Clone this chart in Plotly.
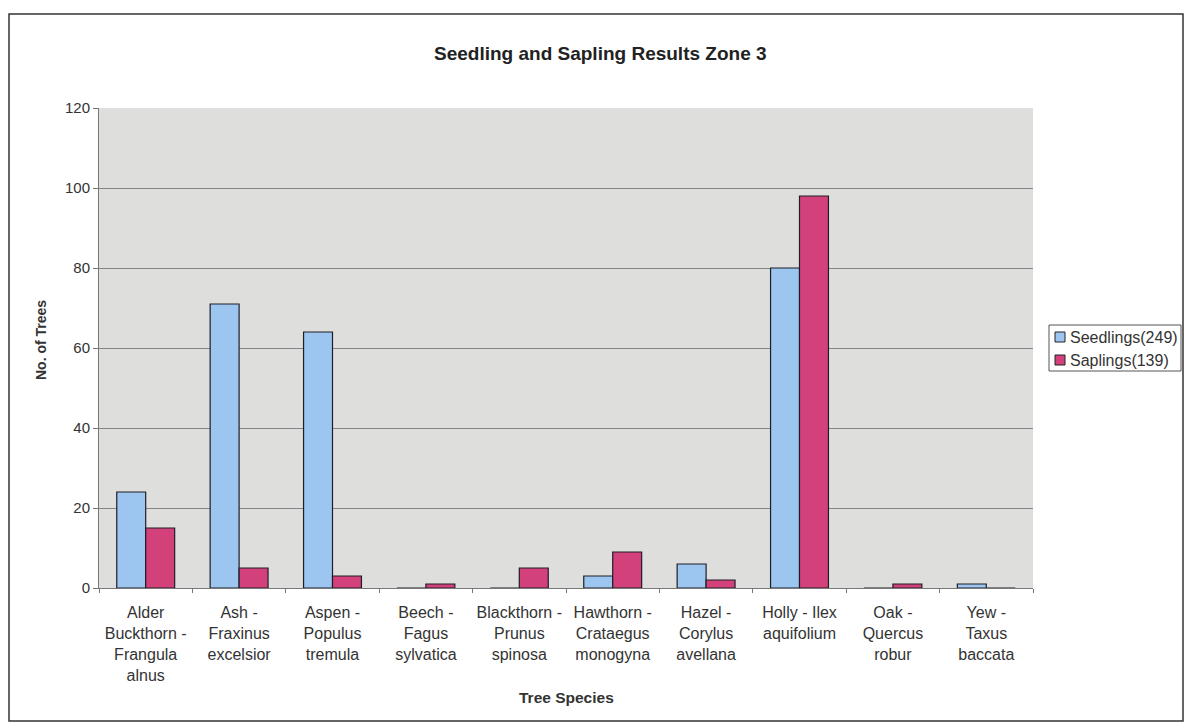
import plotly.graph_objects as go

# Tree species (category labels, line-wrapped)
species = [
    "Alder<br>Buckthorn -<br>Frangula<br>alnus",
    "Ash -<br>Fraxinus<br>excelsior",
    "Aspen -<br>Populus<br>tremula",
    "Beech -<br>Fagus<br>sylvatica",
    "Blackthorn -<br>Prunus<br>spinosa",
    "Hawthorn -<br>Crataegus<br>monogyna",
    "Hazel -<br>Corylus<br>avellana",
    "Holly - Ilex<br>aquifolium",
    "Oak -<br>Quercus<br>robur",
    "Yew -<br>Taxus<br>baccata",
]

seedlings = [24, 71, 64, 0, 0, 3, 6, 80, 0, 1]
saplings = [15, 5, 3, 1, 5, 9, 2, 98, 1, 0]

series_names = ["Seedlings(249)", "Saplings(139)"]
series_colors = ["#9CC5F0", "#D2417A"]

y_ticks = [0, 20, 40, 60, 80, 100, 120]

W, H = 1184, 725
L, R, T, B = 99, 151, 108, 137
pw, ph = W - L - R, H - T - B


def px(x):
    return (x - L) / pw


def py(y):
    return (H - B - y) / ph


font = "Arial, Liberation Sans, sans-serif"
txt = "#333333"

fig = go.Figure()
for name, vals, col in zip(series_names, [seedlings, saplings], series_colors):
    fig.add_trace(go.Bar(
        x=species, y=vals, name=name,
        marker=dict(color=col, line=dict(color="#1e1e28", width=1.2)),
    ))

# Chart frame and a hand-drawn legend box with square swatches
shapes = [
    dict(type="rect", xref="paper", yref="paper",
         x0=px(9), x1=px(1183), y0=py(721), y1=py(14),
         line=dict(color="#333333", width=1.5), layer="below"),
    dict(type="rect", xref="paper", yref="paper",
         x0=px(1049), x1=px(1181), y0=py(371), y1=py(325),
         line=dict(color="#555555", width=1), fillcolor="white"),
]
annotations = []
for i, (name, col) in enumerate(zip(series_names, series_colors)):
    yc = 337 + i * 23
    shapes.append(dict(type="rect", xref="paper", yref="paper",
                       x0=px(1055), x1=px(1065), y0=py(yc + 5), y1=py(yc - 5),
                       line=dict(color="#222222", width=1), fillcolor=col))
    annotations.append(dict(text=name, x=px(1068), y=py(yc), xref="paper", yref="paper",
                            xanchor="left", yanchor="middle", showarrow=False,
                            font=dict(size=16, color=txt)))

annotations += [
    dict(text="<b>Seedling and Sapling Results Zone 3</b>",
         x=px(600), y=py(54), xref="paper", yref="paper",
         xanchor="center", yanchor="middle",
         showarrow=False, font=dict(size=19, color="#222222")),
    dict(text="<b>Tree Species</b>",
         x=px(566), y=py(697), xref="paper", yref="paper",
         xanchor="center", yanchor="middle",
         showarrow=False, font=dict(size=15.5, color=txt)),
    dict(text="<b>No. of Trees</b>",
         x=px(41), y=py(340), xref="paper", yref="paper",
         xanchor="center", yanchor="middle",
         showarrow=False, textangle=-90, font=dict(size=14, color=txt)),
]

fig.update_layout(
    width=W, height=H,
    margin=dict(l=L, r=R, t=T, b=B),
    paper_bgcolor="white",
    plot_bgcolor="#DEDEDC",
    barmode="group",
    bargap=0.38,
    bargroupgap=0,
    font=dict(family=font, size=15, color=txt),
    showlegend=False,
    xaxis=dict(
        type="category",
        showgrid=False,
        showline=True, linecolor="#777777", linewidth=1,
        ticks="outside", tickson="boundaries", ticklen=4, tickcolor="#777777",
        tickfont=dict(size=16, color=txt),
        tickangle=0,
        ticklabelstandoff=10,
    ),
    yaxis=dict(
        range=[0, 120],
        tickvals=y_ticks,
        showgrid=True, gridcolor="#858585", gridwidth=1,
        showline=True, linecolor="#777777", linewidth=1,
        ticks="outside", ticklen=5, tickcolor="#777777",
        tickfont=dict(size=15, color=txt),
        zeroline=False,
    ),
    shapes=shapes,
    annotations=annotations,
)

fig.write_html("out.html")
